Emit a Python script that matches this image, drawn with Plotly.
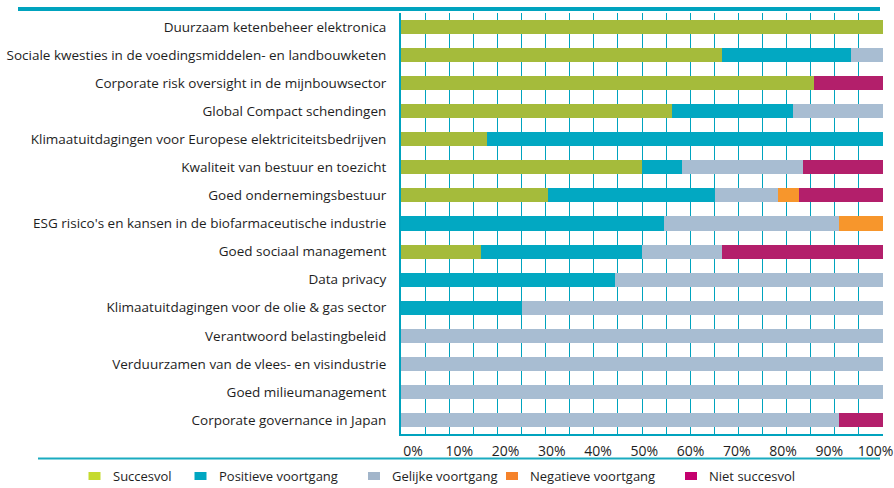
import plotly.graph_objects as go

# ---------------- data ----------------
categories = [
    "Duurzaam ketenbeheer elektronica",
    "Sociale kwesties in de voedingsmiddelen- en landbouwketen",
    "Corporate risk oversight in de mijnbouwsector",
    "Global Compact schendingen",
    "Klimaatuitdagingen voor Europese elektriciteitsbedrijven",
    "Kwaliteit van bestuur en toezicht",
    "Goed ondernemingsbestuur",
    "ESG risico's en kansen in de biofarmaceutische industrie",
    "Goed sociaal management",
    "Data privacy",
    "Klimaatuitdagingen voor de olie & gas sector",
    "Verantwoord belastingbeleid",
    "Verduurzamen van de vlees- en visindustrie",
    "Goed milieumanagement",
    "Corporate governance in Japan",
]
succesvol = [100, 66.7, 85.7, 56.25, 17.9, 50.0, 30.4, 0, 16.7, 0, 0, 0, 0, 0, 0]
positieve_voortgang = [0, 26.7, 0, 25.0, 82.1, 8.3, 34.8, 54.5, 33.3, 44.4, 25.0, 0, 0, 0, 0]
gelijke_voortgang = [0, 6.6, 0, 18.75, 0, 25.0, 13.0, 36.4, 16.7, 55.6, 75.0, 100, 100, 100, 90.9]
negatieve_voortgang = [0, 0, 0, 0, 0, 0, 4.3, 9.1, 0, 0, 0, 0, 0, 0, 0]
niet_succesvol = [0, 0, 14.3, 0, 0, 16.7, 17.5, 0, 33.3, 0, 0, 0, 0, 0, 9.1]

series_names = ["Succesvol", "Positieve voortgang", "Gelijke voortgang",
                "Negatieve voortgang", "Niet succesvol"]
series_values = [succesvol, positieve_voortgang, gelijke_voortgang,
                 negatieve_voortgang, niet_succesvol]

tick_values = [0, 10, 20, 30, 40, 50, 60, 70, 80, 90, 100]
tick_labels = ["0%", "10%", "20%", "30%", "40%", "50%", "60%", "70%", "80%", "90%", "100%"]

# ---------------- styles ----------------
bar_colors = ["#A5BB3B", "#02A8C2", "#A8BDD2", "#F7962C", "#B31F6B"]
legend_colors = ["#C5DA2E", "#00A6C1", "#A2B5CA", "#F5822A", "#C4006E"]
TEAL = "#00A3BE"
FONT = "Open Sans"
TXT = "#1e1e1e"

W, H = 894, 488
ML, MR, MT, MB = 401, 11, 13, 54
PW = W - ML - MR
PH = H - MT - MB


def px_x(px):
    return (px - ML) / PW


def px_y(py):
    return (H - MB - py) / PH


fig = go.Figure()
for name, vals, col in zip(series_names, series_values, bar_colors):
    fig.add_trace(go.Bar(
        y=categories, x=vals, name=name, orientation="h",
        marker=dict(color=col, line=dict(width=0)),
        showlegend=False,
        hovertemplate="%{y}<br>" + name + ": %{x:.1f}%<extra></extra>",
    ))

# empty helper trace so the tick-label axis (x2) gets drawn
fig.add_trace(go.Scatter(x=[None], y=[None], xaxis="x2", yaxis="y",
                         mode="markers", showlegend=False, hoverinfo="skip"))

# tick labels axis (labels sit slightly offset from the grid, as in the original)
lab_left, lab_right = 413.0, 875.5
scale = (lab_right - lab_left) / 100.0
r0 = -(lab_left - ML) / scale
r1 = r0 + PW / scale

fig.update_layout(
    width=W, height=H,
    margin=dict(l=ML, r=MR, t=MT, b=MB, pad=0, autoexpand=False),
    paper_bgcolor="white", plot_bgcolor="white",
    barmode="stack", bargap=0.5,
    font=dict(family=FONT, size=13, color=TXT),
    xaxis=dict(
        range=[0, 100], dtick=5, tick0=0,
        showgrid=True, gridcolor=TEAL, gridwidth=1,
        showticklabels=False, ticks="",
        showline=True, linecolor=TEAL, linewidth=2,
        zeroline=False, fixedrange=True,
    ),
    xaxis2=dict(
        overlaying="x", anchor="y", side="bottom",
        range=[r0, r1], tickmode="array",
        tickvals=tick_values, ticktext=tick_labels,
        showgrid=False, zeroline=False, showline=False,
        ticks="outside", ticklen=4, tickcolor="rgba(0,0,0,0)",
        tickfont=dict(family=FONT, size=14, color=TXT),
        fixedrange=True,
    ),
    yaxis=dict(
        categoryorder="array", categoryarray=categories,
        autorange="reversed",
        showgrid=False, zeroline=False,
        showline=True, linecolor=TEAL, linewidth=2,
        ticks="", ticklabelstandoff=10,
        tickfont=dict(family=FONT, size=13.5, color=TXT),
        fixedrange=True,
    ),
    showlegend=False,
)

shapes = [
    # top rule
    dict(type="line", xref="paper", yref="paper",
         x0=px_x(18), x1=px_x(880), y0=px_y(9), y1=px_y(9),
         line=dict(color=TEAL, width=4)),
    # bottom rule
    dict(type="line", xref="paper", yref="paper",
         x0=px_x(38), x1=px_x(880), y0=px_y(458.5), y1=px_y(458.5),
         line=dict(color="#1AABC0", width=2)),
]
annotations = []

legend_sym_x = [88.5, 194.5, 368, 506, 685]
legend_y = 476
for name, col, sx in zip(series_names, legend_colors, legend_sym_x):
    shapes.append(dict(type="rect", xref="paper", yref="paper",
                       x0=px_x(sx), x1=px_x(sx + 12),
                       y0=px_y(legend_y + 4), y1=px_y(legend_y - 4),
                       fillcolor=col, line=dict(width=0)))
    annotations.append(dict(text=name, xref="paper", yref="paper",
                            x=px_x(sx + 22), y=px_y(legend_y),
                            xanchor="left", yanchor="middle", showarrow=False,
                            font=dict(family=FONT, size=13, color=TXT)))

fig.update_layout(shapes=shapes, annotations=annotations)

fig.write_html(
    "out.html",
    config={"displayModeBar": False},
    post_script="document.body.style.margin='0';document.body.style.overflow='hidden';",
)
